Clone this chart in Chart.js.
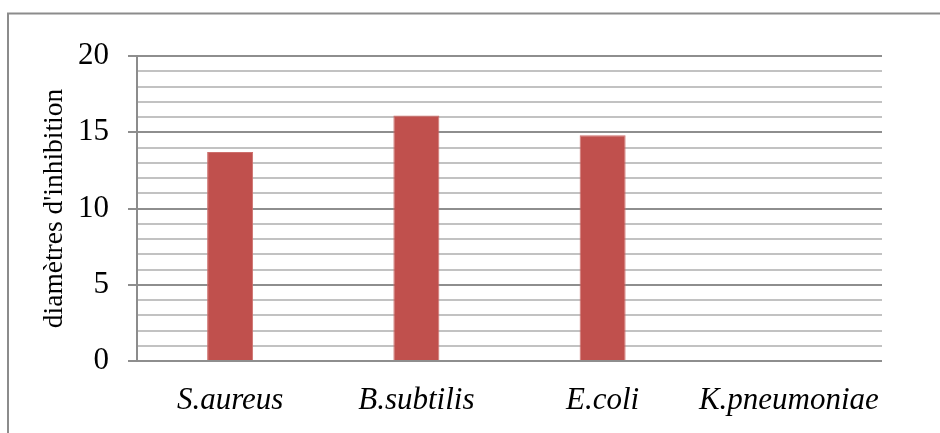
<!DOCTYPE html>
<html>
<head>
<meta charset="utf-8">
<script src="https://cdn.jsdelivr.net/npm/chart.js@4/dist/chart.umd.min.js"></script>
<style>
  html, body { margin: 0; padding: 0; background: #ffffff; }
  #wrap { width: 940px; height: 433px; }
</style>
</head>
<body>
<div id="wrap"><canvas id="chart" width="940" height="433"></canvas></div>
<script>
// Inhibition zone diameters per bacterial strain
const strains = ['S.aureus', 'B.subtilis', 'E.coli', 'K.pneumoniae'];
const diameters = [13.7, 16.1, 14.8, 0];
const yTicks = [0, 5, 10, 15, 20];
const yTitle = "diamètres d'inhibition";

const serif = "'Liberation Serif', 'Times New Roman', serif";

// Outer frame drawn behind the chart
const framePlugin = {
  id: 'frame',
  beforeDraw(chart) {
    const ctx = chart.ctx;
    ctx.save();
    ctx.fillStyle = '#ffffff';
    ctx.fillRect(0, 0, chart.width, chart.height);
    ctx.strokeStyle = '#8c8c8c';
    ctx.lineWidth = 2;
    ctx.beginPath();
    ctx.moveTo(8, chart.height + 5);
    ctx.lineTo(8, 13.5);
    ctx.lineTo(chart.width + 5, 13.5);
    ctx.stroke();
    ctx.restore();
  }
};

new Chart(document.getElementById('chart'), {
  type: 'bar',
  data: {
    labels: strains,
    datasets: [{
      data: diameters,
      backgroundColor: '#C0504D',
      borderColor: '#cd6f6c',
      borderWidth: 1,
      categoryPercentage: 1,
      barPercentage: 0.247
    }]
  },
  options: {
    responsive: false,
    animation: false,
    devicePixelRatio: 1,
    layout: { padding: { top: 56, right: 58, left: 0, bottom: 0 } },
    plugins: {
      legend: { display: false },
      tooltip: { enabled: false }
    },
    scales: {
      x: {
        grid: { display: false, drawTicks: false },
        border: { display: false },
        ticks: {
          color: '#000000',
          padding: 21,
          maxRotation: 0,
          autoSkip: false,
          font: { family: serif, size: 31, style: 'italic' }
        },
        afterFit(scale) { scale.height = 72; }
      },
      y: {
        min: 0,
        max: 20,
        border: { display: true, color: '#8c8c8c', width: 2 },
        grid: {
          lineWidth: 2,
          tickLength: 9,
          color: (c) => (c.tick && c.tick.value % 5 === 0) ? '#8e8e8e' : '#c2c2c2',
          tickColor: (c) => (c.tick && c.tick.value % 5 === 0) ? '#8e8e8e' : 'rgba(0,0,0,0)'
        },
        ticks: {
          stepSize: 1,
          autoSkip: false,
          color: '#000000',
          padding: 19,
          font: { family: serif, size: 31 },
          callback: (v) => yTicks.includes(v) ? String(v) : ''
        },
        title: {
          display: true,
          text: yTitle,
          color: '#000000',
          padding: { top: 38, bottom: 0 },
          font: { family: serif, size: 27.5 }
        },
        afterFit(scale) { scale.width = 137; }
      }
    }
  },
  plugins: [framePlugin]
});
</script>
</body>
</html>
